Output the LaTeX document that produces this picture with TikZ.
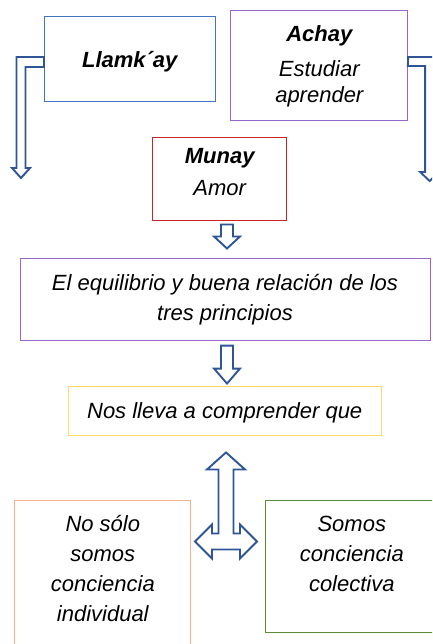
\documentclass[tikz,border=0pt]{standalone}
\usepackage{fontspec}
\setmainfont{Liberation Sans}
\usetikzlibrary{calc}
\usetikzlibrary{positioning}

\definecolor{arrowblue}{HTML}{2F5597}
\definecolor{llamkblue}{HTML}{4472C4}
\definecolor{achaypurple}{HTML}{9966CC}
\definecolor{munayred}{HTML}{CC2222}
\definecolor{nosyellow}{HTML}{FFD966}
\definecolor{soloorange}{HTML}{F4B183}
\definecolor{somosgreen}{HTML}{5B8C3A}

\tikzset{
  box/.style={rectangle, draw=#1, line width=1pt, inner sep=0pt, align=center,
    font=\itshape\fontsize{22}{30}\selectfont},
  blockarrow/.style={draw=arrowblue, fill=white, line width=1.9pt, line join=miter}
}

% down pointing block arrow: top centre, shaft length, head length
\newcommand{\blockdown}[3]{
  \draw[blockarrow] ($#1+(-6,0)$) -- ++(12,0) -- ++(0,#2) -- ++(7,0)
    -- ++(-13,#3) -- ++(-13,-#3) -- ++(7,0) -- cycle;
}

\begin{document}
\begin{tikzpicture}[x=1pt, y=-1pt]

    \clip (0,0) rectangle (432,644);

    % Define nodes
    \node[box=llamkblue, minimum width=170.5pt, minimum height=85.3pt, text height=21.7pt] (llamkay) at (129.75,59.3) {\bfseries Llamk´ay};
    \node[box=achaypurple, minimum width=176.7pt, minimum height=110pt] (achay) at (319.3,66) {{\bfseries Achay}\\[5pt] Estudiar\\[-4pt] aprender};
    \node[box=munayred, minimum width=134pt, minimum height=82pt, text depth=15pt] (munay) at (219.7,179) {{\bfseries Munay}\\[2pt] Amor};
    \node[box=achaypurple, minimum width=410pt, minimum height=81.7pt] (equilibrio) at (225,299.2) {El equilibrio y buena relación de los\\ tres principios};
    \node[box=nosyellow, minimum width=312.7pt, minimum height=49.3pt, text height=19.7pt] (nos) at (224.7,411.3) {Nos lleva a comprender que};
    \node[box=soloorange, minimum width=175.7pt, minimum height=147.3pt, text depth=11.6pt] (nosolo) at (102.8,574.3) {No sólo\\ somos\\ conciencia\\ individual};
    \node[box=somosgreen, minimum width=172.3pt, minimum height=132pt, text depth=23.6pt] (somos) at (351.8,566) {Somos\\ conciencia\\ colectiva};

    % Connect the nodes
    \draw[blockarrow] ($(llamkay.west)+(0,-2.3)$) -- ++(-27.5,0) -- ++(0,111) -- ++(-4.5,0)
      -- ++(9,10) -- ++(9,-10) -- ++(-4.5,0) -- ++(0,-101) -- ++(18.5,0) -- cycle;
    \draw[blockarrow] ($(achay.east)+(0,-9)$) -- ++(26,0) -- ++(0,115) -- ++(5,0)
      -- ++(-9.5,9) -- ++(-9.5,-9) -- ++(5,0) -- ++(0,-106) -- ++(-17.3,0) -- cycle;
    \blockdown{(munay.south)+(7.3,4)}{12}{12}
    \blockdown{(equilibrio.south)+(2,5)}{23}{15}
    \draw[blockarrow] ($(nos.south)+(1.3,16)$) -- ++(19,17) -- ++(-11.5,0) -- ++(0,64)
      -- ++(6.5,0) -- ++(0,-9) -- ++(17,17) -- ++(-17,17) -- ++(0,-9) -- ++(-28,0)
      -- ++(0,9) -- ++(-17,-17) -- ++(17,-17) -- ++(0,9) -- ++(6.5,0) -- ++(0,-64)
      -- ++(-11.5,0) -- cycle;

\end{tikzpicture}
\end{document}
